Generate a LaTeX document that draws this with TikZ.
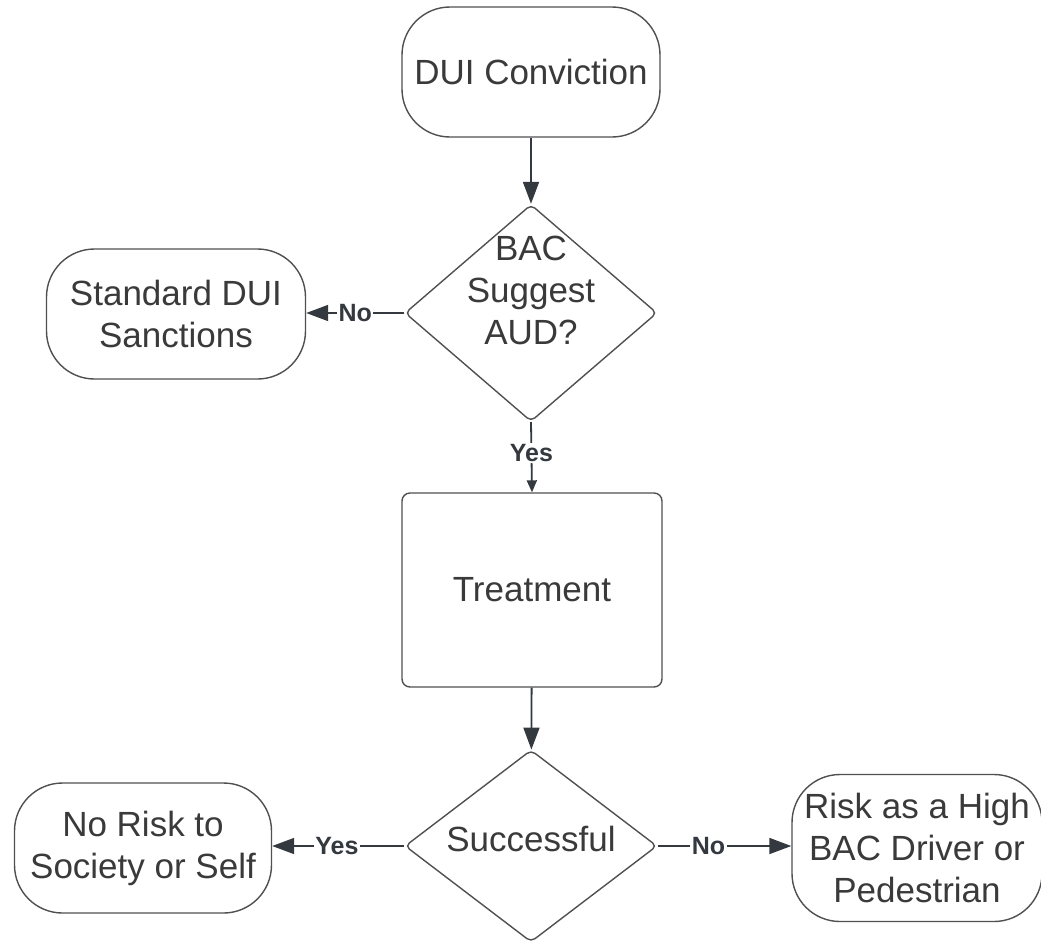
\documentclass[tikz,border=0pt]{standalone}
\usepackage{fontspec}
\setmainfont{Liberation Sans}
\usetikzlibrary{shapes.geometric,arrows.meta}
\definecolor{linegray}{HTML}{505050}
\definecolor{textgray}{HTML}{3A3A3A}
\definecolor{arrowgray}{HTML}{33393F}
\begin{document}
\begin{tikzpicture}[x=1pt,y=-1pt,
    every node/.style={text=textgray,font=\fontsize{35}{42}\selectfont,align=center},
    terminal/.style={draw=linegray,line width=1.4pt,rounded corners=48pt,minimum width=258pt,minimum height=130pt},
    process/.style={draw=linegray,line width=1.4pt,rounded corners=8pt,minimum width=260pt,minimum height=194pt},
    decision/.style={diamond,draw=linegray,line width=1.4pt,rounded corners=5pt,inner sep=0pt,minimum width=252pt},
    flow/.style={draw=arrowgray,line width=1.8pt,-{Triangle[length=22pt,width=16pt]}},
    smallflow/.style={draw=arrowgray,line width=1.8pt,-{Triangle[length=12pt,width=10pt]}},
    answer/.style={fill=white,inner sep=1.5pt,text=arrowgray,font=\fontsize{25}{28}\selectfont\bfseries}]
    \useasboundingbox (0,0) rectangle (1041,940);
    \node[terminal] (dui) at (531,72) {DUI Conviction};
    \node[decision,minimum height=217pt] (aud) at (531,313) {};
    \node (audtext) at (531,290) {BAC\\Suggest\\AUD?};
    \node[terminal,minimum width=259pt] (std) at (176,314) {Standard DUI\\Sanctions};
    \node[process] (treat) at (532,590) {Treatment};
    \node[decision,minimum height=192pt] (succ) at (531,846) {};
    \node (succtext) at (531,839) {Successful};
    \node[terminal,minimum width=257pt] (norisk) at (143,848) {No Risk to\\Society or Self};
    \node[terminal,minimum width=250pt,minimum height=147pt] (risk) at (917,848) {Risk as a High\\BAC Driver or\\Pedestrian};
    \draw[flow] (dui) -- (aud);
    \draw[flow] (aud.west) -- node[answer,pos=0.5] (audno) {No} (aud.west -| std.east);
    \draw[smallflow] (aud.south) -- node[answer,pos=0.44] (audyes) {Yes} (treat.north);
    \draw[flow] (treat) -- (succ);
    \draw[flow] (succ.west) -- node[answer,pos=0.51] (succyes) {Yes} (succ.west -| norisk.east);
    \draw[flow] (succ.east) -- node[answer,pos=0.38] (succno) {No} (succ.east -| risk.west);
\end{tikzpicture}
\end{document}
